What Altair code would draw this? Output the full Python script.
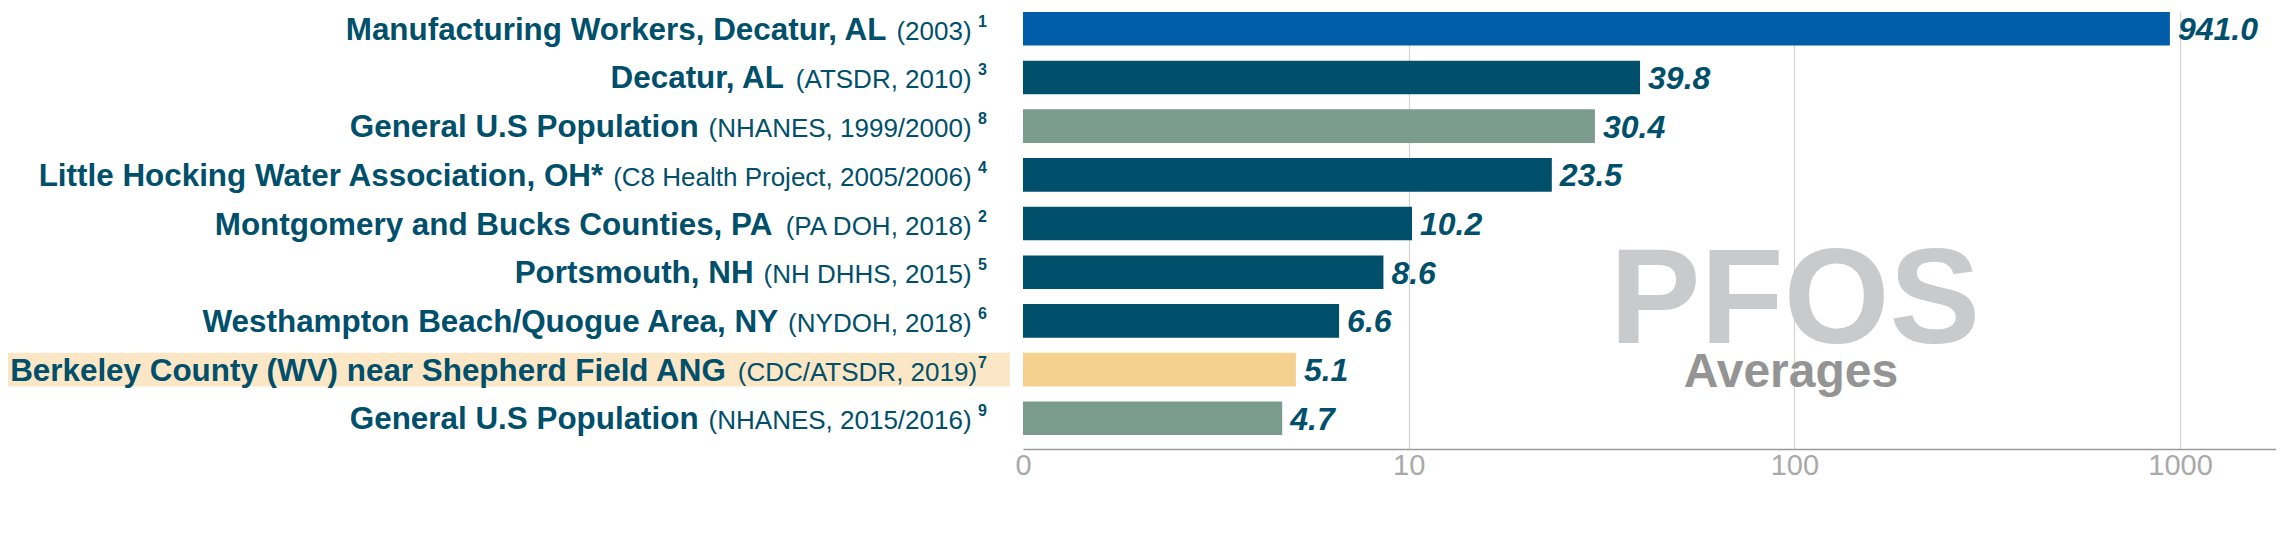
import altair as alt
import pandas as pd

# ---------------- data ----------------
names = [
    "Manufacturing Workers, Decatur, AL",
    "Decatur, AL",
    "General U.S Population",
    "Little Hocking Water Association, OH*",
    "Montgomery and Bucks Counties, PA",
    "Portsmouth, NH",
    "Westhampton Beach/Quogue Area, NY",
    "Berkeley County (WV) near Shepherd Field ANG",
    "General U.S Population",
]
sources = [
    "(2003)",
    "(ATSDR, 2010)",
    "(NHANES, 1999/2000)",
    "(C8 Health Project, 2005/2006)",
    "(PA DOH, 2018)",
    "(NH DHHS, 2015)",
    "(NYDOH, 2018)",
    "(CDC/ATSDR, 2019)",
    "(NHANES, 2015/2016)",
]
notes = ["1", "3", "8", "4", "2", "5", "6", "7", "9"]
values = [941.0, 39.8, 30.4, 23.5, 10.2, 8.6, 6.6, 5.1, 4.7]
groups = ["Workers", "Community", "National", "Community", "Community",
          "Community", "Community", "Berkeley", "National"]
note_spaced = [True, True, True, True, True, True, True, False, True]

tick_values = [1, 10, 100, 1000]
tick_labels = ["0", "10", "100", "1000"]

group_domain = ["Workers", "Community", "National", "Berkeley"]
group_colors = ["#005DAA", "#004F6B", "#7B9D8F", "#F4D18F"]

TEAL = "#004F6B"
FONT = "Liberation Sans"
BOLD_SIZE = 31.4
LIGHT_SIZE = 26
NOTE_SIZE = 16
VALUE_SIZE = 32
LABEL_END = -36  # right end of the label block, relative to plot origin

# Arial / Liberation Sans regular advance widths (per 1000 em) for layout
ADV = {" ": 278, "(": 333, ")": 333, "*": 389, ",": 278, "-": 333, ".": 278, "/": 278,
       "A": 667, "B": 667, "C": 722, "D": 722, "E": 667, "F": 611, "G": 778, "H": 722,
       "I": 278, "J": 500, "K": 667, "L": 556, "M": 833, "N": 722, "O": 778, "P": 667,
       "Q": 778, "R": 722, "S": 667, "T": 611, "U": 722, "V": 667, "W": 944, "X": 667,
       "Y": 667, "Z": 611, "a": 556, "b": 556, "c": 500, "d": 556, "e": 556, "f": 278,
       "g": 556, "h": 556, "i": 222, "j": 222, "k": 500, "l": 222, "m": 833, "n": 556,
       "o": 556, "p": 556, "q": 556, "r": 333, "s": 500, "t": 278, "u": 556, "v": 500,
       "w": 722, "x": 500, "y": 500, "z": 500}


def text_width(s, size):
    return sum(ADV.get(c, 556) for c in s) * size / 1000.0


rows = []
for i in range(len(names)):
    note_x = LABEL_END
    gap = LIGHT_SIZE * 0.25 if note_spaced[i] else 1.0
    src_x = note_x - text_width(notes[i], NOTE_SIZE) - gap
    name_x = src_x - text_width(sources[i], LIGHT_SIZE) - 10
    rows.append({
        "key": f"{i:02d} {names[i]}",
        "name": names[i],
        "source": sources[i],
        "note": notes[i],
        "value": values[i],
        "group": groups[i],
        "note_x": note_x,
        "src_x": src_x,
        "name_x": name_x,
    })
df = pd.DataFrame(rows)
order = list(df["key"])

label_expr = "".join(
    f"datum.value == {v} ? '{l}' : " for v, l in zip(tick_values, tick_labels)
) + "datum.label"

y_enc = alt.Y(
    "key:N", sort=order, axis=None,
    scale=alt.Scale(paddingInner=0.31, paddingOuter=0.143, align=0),
)

x_scale = alt.Scale(type="log", domain=[1, 1773], nice=False)

base = alt.Chart(df)

highlight = base.transform_filter(alt.datum.group == "Berkeley").mark_bar(
    color="#FBE6C5"
).encode(y=y_enc, x=alt.value(-1015), x2=alt.value(-13))

bars = base.mark_bar().encode(
    y=y_enc,
    x=alt.X(
        "value:Q", scale=x_scale, title=None,
        axis=alt.Axis(
            values=tick_values, labelExpr=label_expr, ticks=False,
            grid=True, gridColor="#d3d3d3", gridWidth=1.2,
            gridOpacity={"condition": {"test": "datum.value == 1", "value": 0}, "value": 1},
            domainColor="#9a9a9a", domainWidth=1.5,
            labelFont=FONT, labelFontSize=29, labelColor="#a9a9a9",
            labelFontWeight=300, labelPadding=2, labelFlush=False,
        ),
    ),
    x2=alt.datum(1),
    color=alt.Color("group:N", scale=alt.Scale(domain=group_domain, range=group_colors),
                    legend=None),
)

value_text = base.mark_text(
    align="left", baseline="alphabetic", dx=8, dy=11.5, font=FONT,
    fontSize=VALUE_SIZE, fontStyle="italic", fontWeight="bold", color=TEAL,
).encode(
    y=y_enc,
    x=alt.X("value:Q", scale=x_scale),
    text=alt.Text("value:Q", format=".1f"),
)

name_text = base.mark_text(
    align="right", baseline="alphabetic", dy=11, font=FONT,
    fontSize=BOLD_SIZE, fontWeight="bold", color=TEAL,
).encode(y=y_enc, x=alt.X("name_x:Q", scale=None), text="name:N")

source_text = base.mark_text(
    align="right", baseline="alphabetic", dy=11, font=FONT,
    fontSize=LIGHT_SIZE, fontWeight="normal", color=TEAL,
).encode(y=y_enc, x=alt.X("src_x:Q", scale=None), text="source:N")

note_text = base.mark_text(
    align="right", baseline="alphabetic", dy=-2, font=FONT,
    fontSize=NOTE_SIZE, fontWeight="bold", color=TEAL,
).encode(y=y_enc, x=alt.X("note_x:Q", scale=None), text="note:N")

pfos = alt.Chart(pd.DataFrame({"t": ["PFOS"]})).mark_text(
    align="center", baseline="alphabetic", font=FONT, fontSize=136,
    fontWeight="bold", color="#C9CACB",
).encode(x=alt.value(772), y=alt.value(331), text="t:N")

averages = alt.Chart(pd.DataFrame({"t": ["Averages"]})).mark_text(
    align="center", baseline="alphabetic", font=FONT, fontSize=48,
    fontWeight="bold", color="#949494",
).encode(x=alt.value(768), y=alt.value(375), text="t:N")

chart = alt.layer(
    highlight, pfos, averages, bars, value_text, name_text, source_text, note_text
).properties(
    width=1253, height=437,
    padding={"left": 1015, "top": 4, "right": 0, "bottom": 60},
    autosize=alt.AutoSizeParams(type="none"),
).configure_view(strokeWidth=0).resolve_scale(x="shared")

chart.save("out.html", embed_options={"renderer": "svg", "actions": False})
